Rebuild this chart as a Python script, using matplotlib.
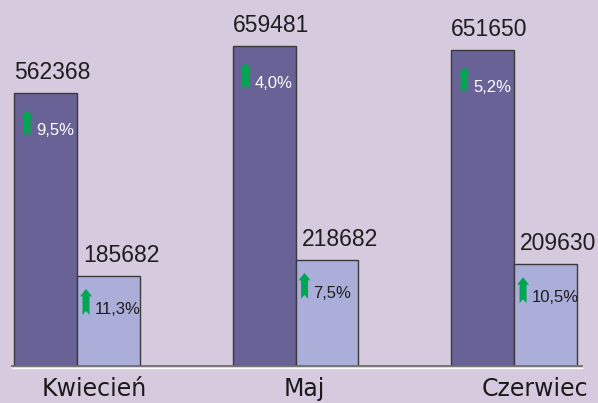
import matplotlib
matplotlib.use("Agg")
import matplotlib.pyplot as plt
import matplotlib.transforms as mtransforms
from matplotlib.path import Path
from matplotlib.patches import PathPatch
import numpy as np

categories = ["Kwiecień", "Maj", "Czerwiec"]
series_a = [562368, 659481, 651650]
series_b = [185682, 218682, 209630]
growth_a = ["9,5%", "4,0%", "5,2%"]
growth_b = ["11,3%", "7,5%", "10,5%"]

BG = "#d6cade"
DARK = "#686296"
LIGHT = "#aaaed8"
GREEN = "#00a651"
EDGE = "#3a3a3a"

DPI = 100
fig = plt.figure(figsize=(5.98, 4.03), dpi=DPI, facecolor=BG)
ax = fig.add_axes([12 / 598, 37 / 403, 570 / 598, 366 / 403])
ax.set_facecolor(BG)

x = np.arange(len(categories))
w = 0.288
ax.bar(x - w / 2, series_a, w, color=DARK, edgecolor=EDGE, linewidth=1, zorder=2)
ax.bar(x + w / 2, series_b, w, color=LIGHT, edgecolor=EDGE, linewidth=1, zorder=2)

ax.set_xlim(-0.2975, 2.311)
ax.set_ylim(0, 754000)


def off(dx, dy):
    return mtransforms.ScaledTranslation(dx / DPI, dy / DPI, fig.dpi_scale_trans)


for s in ["left", "right", "top"]:
    ax.spines[s].set_visible(False)
ax.spines["bottom"].set_color("#6e6e6e")
ax.spines["bottom"].set_linewidth(1.3)
ax.spines["bottom"].set_zorder(3)
# white highlight below the baseline
ax.plot([0, 1], [0, 0], color="white", lw=1,
        transform=ax.transAxes + off(0, -1.5), clip_on=False, zorder=1)
ax.set_yticks([])

ax.set_xticks(x, categories)
ax.tick_params(axis="x", length=0, pad=8)
label_dx = [17, 9, 21]
for lbl, dx in zip(ax.get_xticklabels(), label_dx):
    lbl.set_fontfamily("DejaVu Sans")
    lbl.set_fontsize(17)
    lbl.set_color("#1a1a1a")
    lbl.set_transform(lbl.get_transform() + off(dx, 0))

# arrow shape in pixels, relative to anchor (top-left of arrow box)
arrow_verts = [(3.5, 0), (9.5, -7.5), (7, -7.5), (7, -26), (3.5, -22), (0, -26),
               (0, -7.5), (-2.5, -7.5), (3.5, 0)]
arrow_codes = [Path.MOVETO] + [Path.LINETO] * 7 + [Path.CLOSEPOLY]
arrow_path = Path(arrow_verts, arrow_codes)


def annotate_bar(xl, val, pct, lbl_dx, arrow_dx, arrow_top, txt_color):
    ax.text(xl, val, f"{val}", transform=ax.transData + off(lbl_dx, 14),
            ha="left", va="baseline", fontsize=16.5, family="Liberation Sans",
            color="#1e1e1e", zorder=4)
    tr = mtransforms.Affine2D().translate(arrow_dx + 2.5, -arrow_top) + \
        mtransforms.ScaledTranslation(xl, val, ax.transData)
    ax.add_patch(PathPatch(arrow_path, facecolor=GREEN, edgecolor="none",
                           transform=tr, zorder=4))
    ax.text(xl, val, pct, transform=ax.transData + off(arrow_dx + 15, -arrow_top - 25),
            ha="left", va="baseline", fontsize=12, family="Liberation Sans",
            color=txt_color, zorder=4)


for i in range(len(categories)):
    annotate_bar(x[i] - w, series_a[i], growth_a[i], 0, 7, 17, "white")
    annotate_bar(x[i], series_b[i], growth_b[i], 6, 3, 13, "#1e1e1e")

fig.savefig("out.png", dpi=DPI, facecolor=BG)
